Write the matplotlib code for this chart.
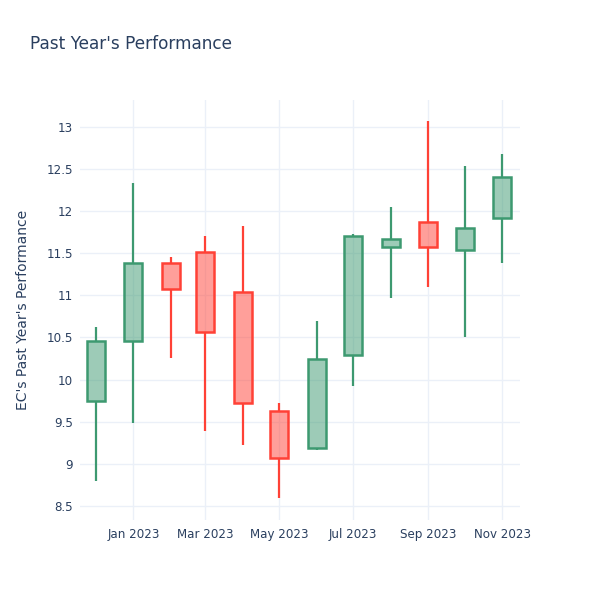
import matplotlib
matplotlib.use("Agg")
import matplotlib.pyplot as plt
import matplotlib.dates as mdates
import numpy as np
import datetime as dt

dates = ["2022-12-01", "2023-01-01", "2023-02-01", "2023-03-01", "2023-04-01", "2023-05-01",
         "2023-06-01", "2023-07-01", "2023-08-01", "2023-09-01", "2023-10-01", "2023-11-01"]
opens  = [9.75, 10.46, 11.39, 11.51, 11.04, 9.63, 9.19, 10.29, 11.57, 11.87, 11.54, 11.92]
highs  = [10.63, 12.34, 11.46, 11.71, 11.82, 9.72, 10.70, 11.73, 12.05, 13.07, 12.54, 12.68]
lows   = [8.80, 9.49, 10.26, 9.39, 9.22, 8.59, 9.16, 9.92, 10.97, 11.10, 10.50, 11.38]
closes = [10.46, 11.38, 11.08, 10.56, 9.72, 9.07, 10.24, 11.71, 11.67, 11.58, 11.80, 12.40]
yticks = [8.5, 9, 9.5, 10, 10.5, 11, 11.5, 12, 12.5, 13]
ytick_labels = ["8.5", "9", "9.5", "10", "10.5", "11", "11.5", "12", "12.5", "13"]
xtick_dates = ["2023-01-01", "2023-03-01", "2023-05-01", "2023-07-01", "2023-09-01", "2023-11-01"]
xtick_labels = ["Jan 2023", "Mar 2023", "May 2023", "Jul 2023", "Sep 2023", "Nov 2023"]

TXT = "#2a3f5f"
GRID = "#EBF0F8"
INC, INC_F = "#3D9970", (61/255, 153/255, 112/255, 0.5)
DEC, DEC_F = "#FF4136", (255/255, 65/255, 54/255, 0.5)

plt.rcParams['font.family'] = ['DejaVu Sans']
fig = plt.figure(figsize=(6, 6), dpi=100)
ax = fig.add_axes([80/600, 80/600, 440/600, 420/600])

x = mdates.datestr2num(dates)
width = 14.8
for xi, o, h, l, c in zip(x, opens, highs, lows, closes):
    up = c >= o
    col, fc = (INC, INC_F) if up else (DEC, DEC_F)
    lo_b, hi_b = min(o, c), max(o, c)
    ax.vlines(xi, l, lo_b, color=col, lw=1.6, zorder=3)
    ax.vlines(xi, hi_b, h, color=col, lw=1.6, zorder=3)
    ax.bar(xi, hi_b - lo_b, bottom=lo_b, width=width, facecolor=fc,
           edgecolor=col, linewidth=1.8, zorder=4)

ax.set_xlim(mdates.datestr2num("2022-11-18"), mdates.datestr2num("2023-11-15") + 0.6)
ax.set_ylim(8.333, 13.32)
ax.set_yticks(yticks)
ax.set_yticklabels(ytick_labels)
ax.set_xticks(mdates.datestr2num(xtick_dates))
ax.set_xticklabels(xtick_labels)
ax.grid(True, color=GRID, lw=1)
ax.set_axisbelow(True)
for s in ax.spines.values():
    s.set_visible(False)
ax.tick_params(axis='both', length=0, colors=TXT, labelsize=8.6)
ax.tick_params(axis='y', pad=5)
ax.tick_params(axis='x', pad=6)
ax.set_ylabel("EC's Past Year's Performance", color=TXT, fontsize=10, labelpad=12)
fig.text(30/600, 1 - 44/600, "Past Year's Performance", color=TXT, fontsize=12.2,
         ha='left', va='center')
fig.savefig("out.png", dpi=100)
